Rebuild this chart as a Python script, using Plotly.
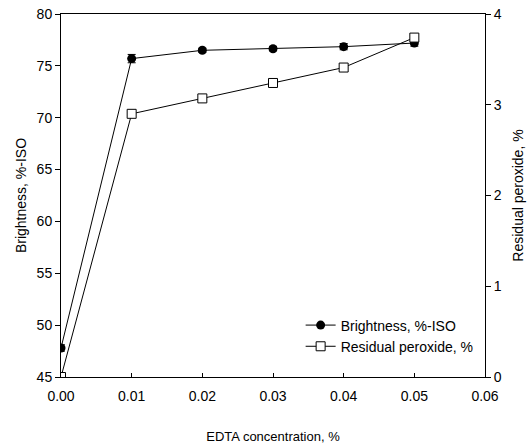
import plotly.graph_objects as go

edta = [0.00, 0.01, 0.02, 0.03, 0.04, 0.05]
brightness = [47.8, 75.7, 76.5, 76.65, 76.85, 77.2]
brightness_err = [0.3, 0.4, 0.2, 0.2, 0.3, 0.3]
residual = [0.0, 2.90, 3.07, 3.24, 3.41, 3.74]

font_family = "Liberation Sans, Arial, sans-serif"

fig = go.Figure()
fig.add_trace(go.Scatter(
    x=edta, y=brightness, name="Brightness, %-ISO",
    mode="lines+markers",
    line=dict(color="black", width=1),
    marker=dict(symbol="circle", size=9, color="black"),
    error_y=dict(type="data", array=brightness_err, color="black", thickness=1, width=4),
))
fig.add_trace(go.Scatter(
    x=edta, y=residual, name="Residual peroxide, %", yaxis="y2",
    mode="lines+markers",
    line=dict(color="black", width=1),
    marker=dict(symbol="square", size=9, color="white", line=dict(color="black", width=1)),
))

fig.update_layout(
    width=532, height=444,
    margin=dict(l=61, r=47, t=14, b=67),
    paper_bgcolor="white", plot_bgcolor="white",
    font=dict(family=font_family, size=14, color="black"),
    showlegend=True,
    legend=dict(x=0.985, y=0.04, xanchor="right", yanchor="bottom",
                bgcolor="rgba(0,0,0,0)", font=dict(size=14), tracegroupgap=0,
                itemwidth=30),
    xaxis=dict(
        range=[0, 0.06], dtick=0.01, tickformat=".2f", automargin=False,
        showline=True, linecolor="black", linewidth=1, mirror=True,
        ticks="inside", ticklen=4, tickcolor="black", ticklabelstandoff=6,
        ticklabeloverflow="allow",
        showgrid=False, zeroline=False,
        title=dict(text="EDTA concentration, %", font=dict(size=13), standoff=33),
    ),
    yaxis=dict(
        range=[45, 80], dtick=5, automargin=False,
        showline=True, linecolor="black", linewidth=1,
        ticks="outside", ticklen=5, tickcolor="black",
        ticklabeloverflow="allow",
        showgrid=False, zeroline=False,
        title=dict(text="Brightness, %-ISO", font=dict(size=14), standoff=6),
    ),
    yaxis2=dict(
        range=[0, 4], dtick=1, overlaying="y", side="right", automargin=False,
        showline=True, linecolor="black", linewidth=1,
        ticks="outside", ticklen=5, tickcolor="black",
        ticklabeloverflow="allow",
        showgrid=False, zeroline=False,
        title=dict(text="Residual peroxide, %", font=dict(size=14), standoff=12),
    ),
)

fig.write_html("out.html", config={"displayModeBar": False},
               post_script="document.body.style.margin='0';")
